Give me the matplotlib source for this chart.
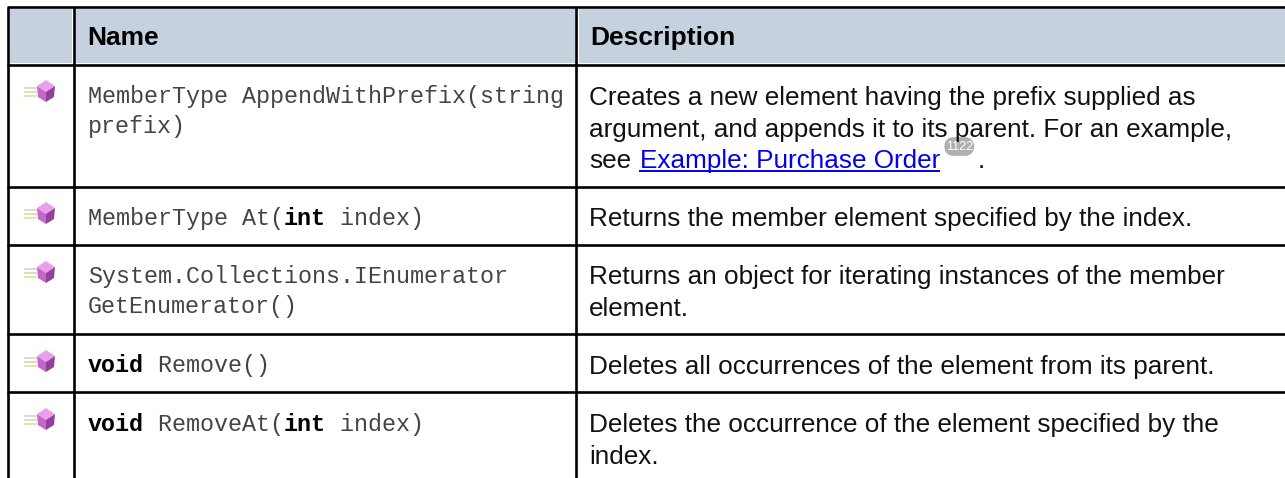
# Member table - methods of the element collection

import matplotlib
matplotlib.use("Agg")
import matplotlib.pyplot as plt
from matplotlib.patches import Polygon, FancyBboxPatch, Rectangle

# Table contents
headers = ["Name", "Description"]

# each code line is a list of (text, bold) runs
code_lines = [
    [[("MemberType AppendWithPrefix(string", False)], [("prefix)", False)]],
    [[("MemberType At(", False), ("int", True), (" index)", False)]],
    [[("System.Collections.IEnumerator", False)], [("GetEnumerator()", False)]],
    [[("void", True), (" Remove()", False)]],
    [[("void", True), (" RemoveAt(", False), ("int", True), (" index)", False)]],
]

descriptions = [
    ["Creates a new element having the prefix supplied as",
     "argument, and appends it to its parent. For an example,",
     "see"],
    ["Returns the member element specified by the index."],
    ["Returns an object for iterating instances of the member",
     "element."],
    ["Deletes all occurrences of the element from its parent."],
    ["Deletes the occurrence of the element specified by the",
     "index."],
]

link_text = "Example: Purchase Order"
badge_text = "1122"

# Layout in pixels
W, H = 1285, 478
left_x, col1_x, col2_x = 8, 73.5, 576
top_y, header_y = 7, 64.5
row_lines = [186.5, 245, 334, 392.3]
code_base = [103, 225, 283, 372, 431]
desc_base = [105, 226, 284, 374, 432]
icon_tops = [80, 202, 261, 350, 408]
code_step, desc_step = 30, 31.7
char_w = 14.0
body_size = 18.8

fig = plt.figure(figsize=(W / 100, H / 100), dpi=100)
ax = fig.add_axes([0, 0, 1, 1])
ax.set_xlim(0, W)
ax.set_ylim(H, 0)
ax.axis("off")

# Header fill
for x0, x1 in [(left_x + 1.5, col1_x - 1.5), (col1_x + 2.5, col2_x - 1.5), (col2_x + 2.5, W)]:
    ax.add_patch(Rectangle((x0, top_y + 1.5), x1 - x0, header_y - top_y - 3.5, fc="#c5d1de", ec="none"))

# Grid
lw = 1.9
for y in [top_y, header_y] + row_lines:
    ax.plot([left_x - 1, W], [y, y], color="black", lw=lw, solid_capstyle="butt")
for x in [left_x, col1_x, col2_x]:
    ax.plot([x, x], [top_y, H], color="black", lw=lw, solid_capstyle="butt")

# Header text
ax.text(87.5, 45, headers[0], family="Liberation Sans", weight="bold", fontsize=19,
        va="baseline", color="black")
ax.text(590.5, 45, headers[1], family="Liberation Sans", weight="bold", fontsize=19,
        va="baseline", color="black")


def draw_icon(top):
    # speed lines and purple cube
    for dy, c in zip([8, 12, 16], ["#d5dbd0", "#dcdcb0", "#e8e0a0"]):
        ax.plot([24, 37], [top + dy, top + dy], color=c, lw=1.3, solid_capstyle="butt")
    ax.add_patch(Polygon([(46, top), (55, top + 6), (46, top + 12), (37, top + 6)], fc="#e9a0ea", ec="none"))
    ax.add_patch(Polygon([(37, top + 6), (46, top + 12), (46, top + 22), (38, top + 17)], fc="#c465c8", ec="none"))
    ax.add_patch(Polygon([(55, top + 6), (46, top + 12), (46, top + 22), (54, top + 17)], fc="#93409c", ec="none"))


for top in icon_tops:
    draw_icon(top)

# Code column
for lines, base in zip(code_lines, code_base):
    for i, runs in enumerate(lines):
        n = 0
        for text, bold in runs:
            ax.text(88 + n * char_w, base + i * code_step, text, family="Liberation Mono",
                    weight="bold" if bold else "normal", fontsize=16.8, va="baseline",
                    color="black" if bold else "#444444")
            n += len(text)

# Description column
for lines, base in zip(descriptions, desc_base):
    for i, line in enumerate(lines):
        ax.text(589, base + i * desc_step, line, family="Liberation Sans", fontsize=body_size,
                va="baseline", color="#111111")

# Link and page badge
link_y = 168
link = ax.text(640, link_y, link_text, family="Liberation Sans", fontsize=body_size, va="baseline",
               color="#0000ee")
fig.canvas.draw()
link_end = link.get_window_extent().x1
ax.plot([639, link_end], [link_y + 3, link_y + 3], color="#0000ee", lw=1.4, solid_capstyle="butt")
ax.add_patch(FancyBboxPatch((link_end + 9, 142), 20, 9, boxstyle="round,pad=0,rounding_size=4.5",
                            fc="#b0b0b0", ec="#b0b0b0", lw=7))
ax.text(link_end + 19, 147, badge_text, family="Liberation Sans", fontsize=9, color="white",
        ha="center", va="center")
ax.text(link_end + 37, link_y, ".", family="Liberation Sans", fontsize=body_size, va="baseline", color="#111111")

fig.savefig("out.png", dpi=100)
